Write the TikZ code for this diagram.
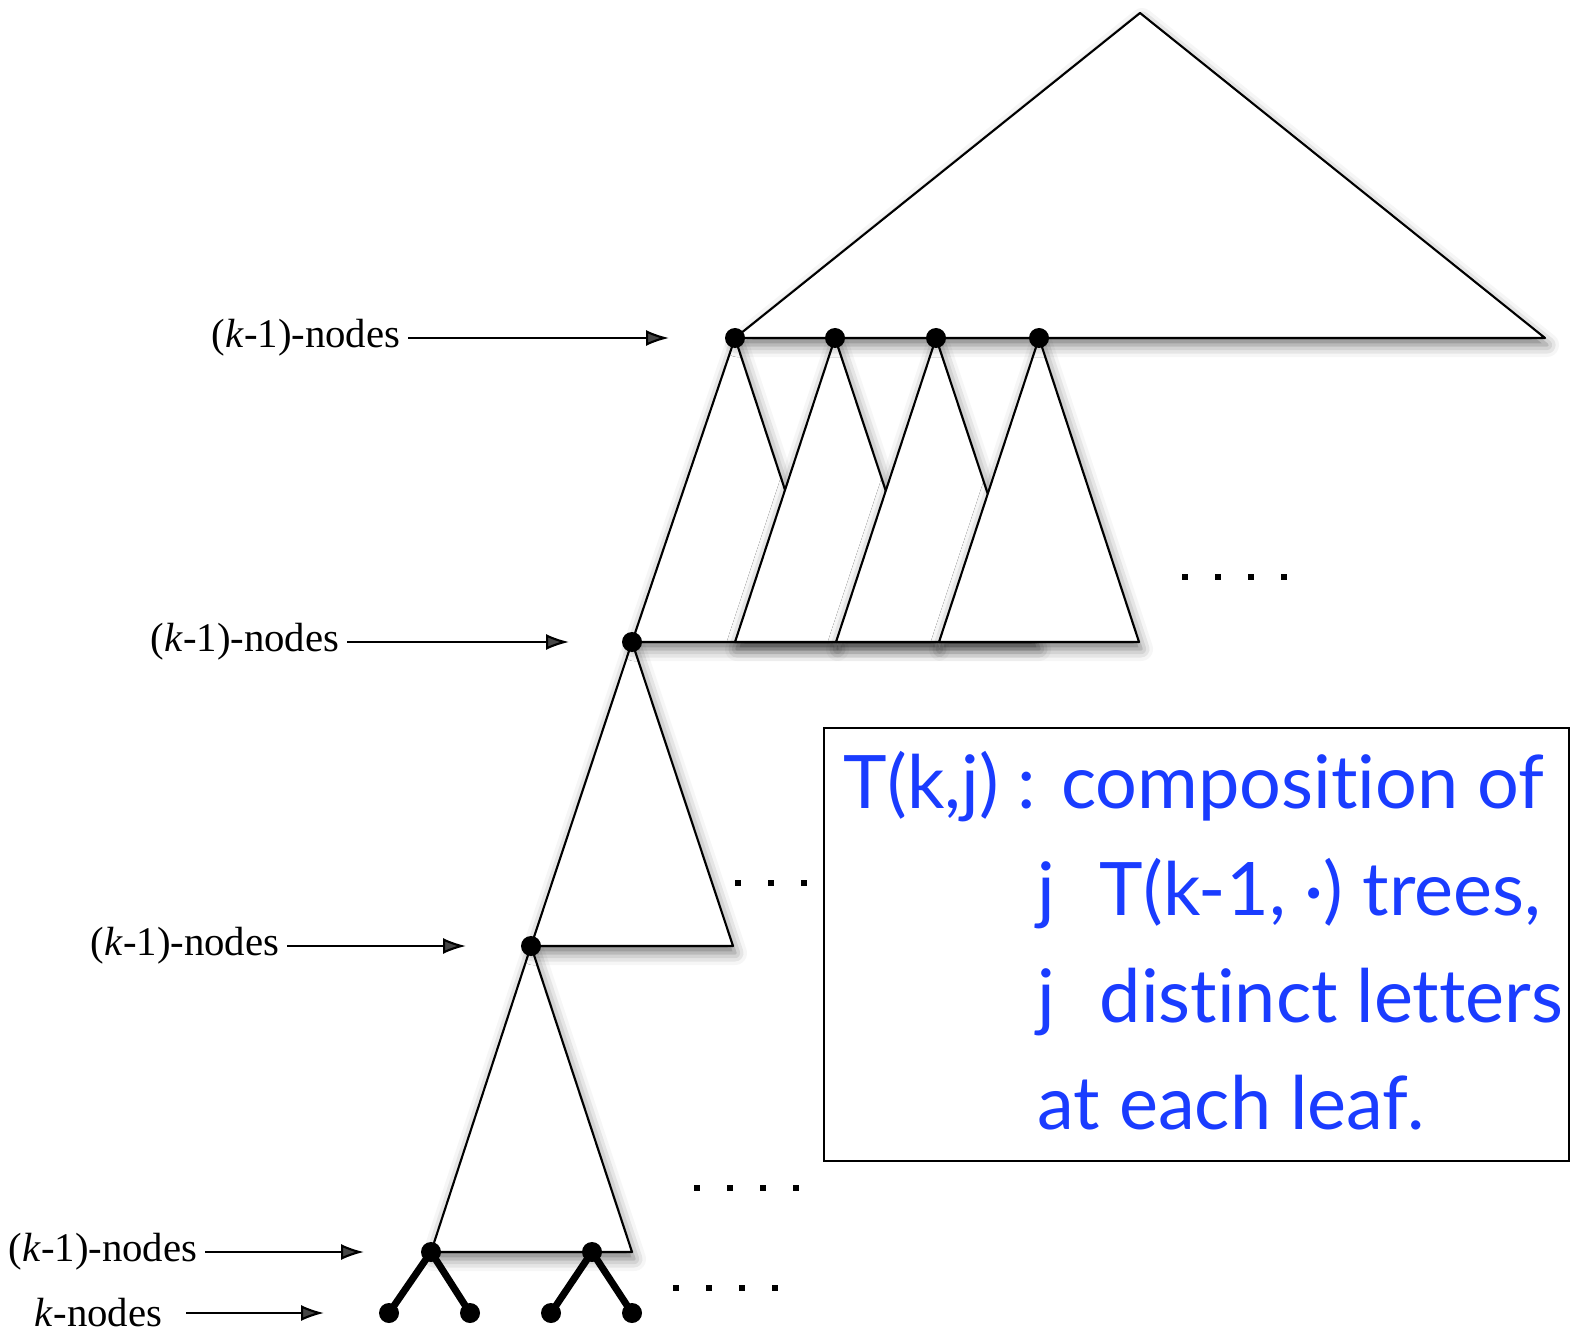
\documentclass[tikz,border=0pt]{standalone}
\usepackage{fontspec}
\setmainfont{Liberation Serif}
\newfontfamily\notefont[Ligatures=NoCommon]{Lato}
\usetikzlibrary{arrows.meta,shadows.blur}
\definecolor{noteblue}{HTML}{1A3CFF}

\begin{document}
\begin{tikzpicture}[x=0.1mm, y=-0.1mm,
    tree/.style={draw=black, fill=white, line width=0.6pt, line join=round,
      blur shadow={shadow xshift=0.2mm, shadow yshift=-0.7mm,
        shadow blur radius=1.2mm, shadow opacity=55}},
    vertex/.style={circle, fill=black, inner sep=0pt, minimum size=2mm},
    level/.style={font=\fontsize{11.6}{13}\selectfont, anchor=east, inner sep=0pt},
    pointer/.style={-{Latex[length=2.3mm, width=1.6mm]}, line width=0.6pt, shorten <=0.7mm},
    leafedge/.style={line width=2pt, line cap=round},
    notebox/.style={draw=black, line width=0.7pt, fill=white, anchor=north west,
      minimum width=74.5mm, minimum height=43.3mm, inner sep=0pt},
    noteline/.style={anchor=base west, inner sep=0pt, text=noteblue,
      font=\notefont\fontsize{21}{25}\selectfont}
  ]
  \useasboundingbox (0,0) rectangle (1578,1333);

  \coordinate (top) at (1140,13);
  \coordinate (topright) at (1545,338);
  \coordinate (a1) at (735,338);
  \coordinate (a2) at (835,338);
  \coordinate (a3) at (936,338);
  \coordinate (a4) at (1039,338);
  \coordinate (b) at (632,642);
  \coordinate (c) at (531,946);
  \coordinate (d2) at (592,1252);

  % third level, then upwards
  \filldraw[tree] (c) -- (431,1252) -- (632,1252) -- cycle;
  \filldraw[tree] (b) -- (c) -- (733,946) -- cycle;
  \filldraw[tree] (a1) -- (b) -- (835,642) -- cycle;
  \filldraw[tree] (a2) -- (735,642) -- (936,642) -- cycle;
  \filldraw[tree] (a3) -- (836,642) -- (1037,642) -- cycle;
  \filldraw[tree] (a4) -- (939,642) -- (1139,642) -- cycle;
  \filldraw[tree] (top) -- (a1) -- (topright) -- cycle;

  \draw[leafedge] (431,1252) -- (389,1313) (431,1252) -- (470,1313);
  \draw[leafedge] (d2) -- (551,1313) (d2) -- (632,1313);

  \foreach \name/\pos in {va1/a1, va2/a2, va3/a3, va4/a4, vb/b, vc/c, vd2/d2}
    \node[vertex] (\name) at (\pos) {};
  \node[vertex] (vd1) at (431,1252) {};
  \node[vertex] (l1) at (389,1313) {};
  \node[vertex] (l2) at (470,1313) {};
  \node[vertex] (l3) at (551,1313) {};
  \node[vertex] (l4) at (632,1313) {};

  \foreach \x/\y/\n in {1185/577/4, 738/883/3, 697/1188/4, 676/1288/4}
    \foreach \i in {1,...,\n}
      \fill ({\x+(\i-1)*33-3},\y-3) rectangle ++(6,6);

  \node[level] (lab1) at (401,338) {(\textit{k}-1)-nodes};
  \node[level] (lab2) at (340,642) {(\textit{k}-1)-nodes};
  \node[level] (lab3) at (280,946) {(\textit{k}-1)-nodes};
  \node[level] (lab4) at (198,1252) {(\textit{k}-1)-nodes};
  \node[level] (lab5) at (163,1313) {\textit{k}-nodes};
  \coordinate (tip1) at (669,338);
  \coordinate (tip2) at (569,642);
  \coordinate (tip3) at (466,946);
  \coordinate (tip4) at (364,1252);
  \coordinate (tip5) at (324,1313);
  \draw[pointer] (lab1) -- (tip1);
  \draw[pointer] (lab2) -- (tip2);
  \draw[pointer] (lab3) -- (tip3);
  \draw[pointer] (lab4) -- (tip4);
  \draw[pointer, shorten <=2.3mm] (lab5) -- (tip5);

  \node[notebox] (note) at (823,727) {};
  \node[noteline] (row1) at (843,808) {T(k,j) : composition of};
  \node[noteline] (row2) at (1037,915) {j\hspace{0.6em}T(k-1, ·) trees,};
  \node[noteline] (row3) at (1037,1022) {j\hspace{0.6em}distinct letters};
  \node[noteline] (row4) at (1037,1129) {at each leaf.};
\end{tikzpicture}
\end{document}
